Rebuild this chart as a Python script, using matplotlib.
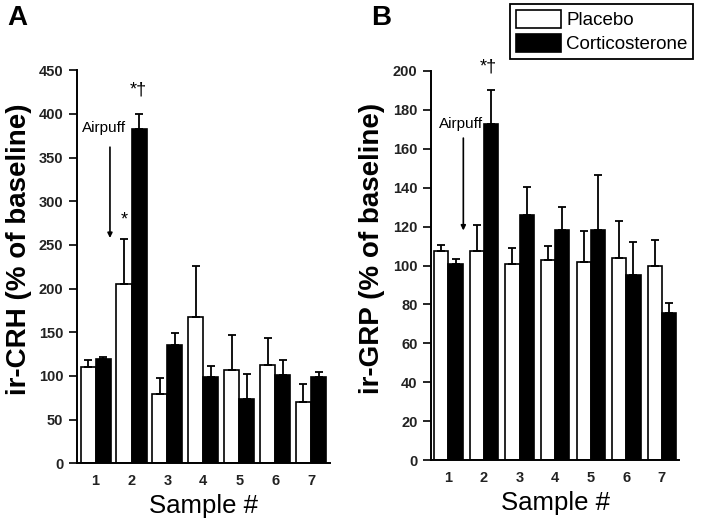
import numpy as np
import matplotlib
matplotlib.use('Agg')
import matplotlib.pyplot as plt
from matplotlib.patches import Patch

plt.rcParams['font.family'] = ['Liberation Sans', 'DejaVu Sans']

# data
samples = [1, 2, 3, 4, 5, 6, 7]
crh_placebo = [110, 205, 79, 168, 107, 112, 70]
crh_placebo_err = [8, 52, 19, 58, 40, 32, 21]
crh_cort = [120, 383, 135, 99, 74, 101, 99]
crh_cort_err = [1.5, 17, 14, 12, 28, 17, 5]

grp_placebo = [107.5, 107.5, 101, 103, 102, 104, 100]
grp_placebo_err = [3, 13.5, 8, 7, 15.5, 19, 13]
grp_cort = [101, 172.5, 126, 118, 118.5, 95, 75.5]
grp_cort_err = [2.5, 17.5, 14.5, 12, 28, 17, 5]

W, H = 708, 520
fig = plt.figure(figsize=(W / 100, H / 100), dpi=100)


def px(l, t, r, b):
    return [l / W, 1 - b / H, (r - l) / W, (b - t) / H]


axA = fig.add_axes(px(77.3, 70.3, 330, 463.3))
axB = fig.add_axes(px(431.3, 71, 679, 460))


def draw(ax, plac, plac_err, cort, cort_err, w, xlim, ylim, yticks):
    x = np.array(samples)
    ek = dict(elinewidth=1.3, capsize=3, capthick=1.3, ecolor='black')
    ax.bar(x - w / 2, plac, w, color='white', edgecolor='black', linewidth=1.2,
           yerr=[np.zeros(len(plac)), plac_err], error_kw=ek)
    ax.bar(x + w / 2, cort, w, color='black', edgecolor='black', linewidth=1.2,
           yerr=[np.zeros(len(cort)), cort_err], error_kw=ek)
    ax.set_xlim(*xlim)
    ax.set_ylim(*ylim)
    ax.set_yticks(yticks)
    ax.set_xticks(x)
    ax.spines['top'].set_visible(False)
    ax.spines['right'].set_visible(False)
    ax.spines['left'].set_linewidth(1.4)
    ax.spines['bottom'].set_linewidth(1.4)
    ax.tick_params(axis='y', length=6, width=1.2, pad=4, labelsize=10.5,
                   colors='black')
    ax.tick_params(axis='x', length=0, pad=8, labelsize=10.5)
    for lab in ax.get_xticklabels() + ax.get_yticklabels():
        lab.set_fontweight('bold')
        lab.set_color('#222222')
    ax.set_xlabel('Sample #', fontsize=18.5, labelpad=4)


draw(axA, crh_placebo, crh_placebo_err, crh_cort, crh_cort_err,
     0.42, (0.49, 7.53), (0, 450), range(0, 451, 50))
draw(axB, grp_placebo, grp_placebo_err, grp_cort, grp_cort_err,
     0.40, (0.52, 7.48), (0, 200), range(0, 201, 20))

# y labels
fig.text(19 / W, 1 - 249 / H, 'ir-CRH (% of baseline)', rotation=90,
         ha='center', va='center', fontsize=20, fontweight='bold')
fig.text(372 / W, 1 - 248 / H, 'ir-GRP (% of baseline)', rotation=90,
         ha='center', va='center', fontsize=20, fontweight='bold')

# panel letters
fig.text(7 / W, 1 - 5 / H, 'A', fontsize=20, fontweight='bold', va='top')
fig.text(371 / W, 1 - 5 / H, 'B', fontsize=20, fontweight='bold', va='top')

# annotations panel A
axA.annotate('', xy=(1.40, 258), xytext=(1.40, 362),
             arrowprops=dict(arrowstyle='-|>', color='black', lw=1.2,
                             mutation_scale=7, shrinkA=0, shrinkB=0))
axA.text(1.23, 384, 'Airpuff', ha='center', va='center', fontsize=11)
axA.text(1.79, 279, '*', ha='center', va='center', fontsize=13)
axA.text(2.19, 428, '*†', ha='center', va='center', fontsize=13,
         clip_on=False)

# annotations panel B
axB.annotate('', xy=(1.42, 118), xytext=(1.42, 165.5),
             arrowprops=dict(arrowstyle='-|>', color='black', lw=1.2,
                             mutation_scale=7, shrinkA=0, shrinkB=0))
axB.text(1.35, 172.7, 'Airpuff', ha='center', va='center', fontsize=11)
axB.text(2.13, 202, '*†', ha='center', va='center', fontsize=13,
         clip_on=False)

# legend
handles = [Patch(facecolor='white', edgecolor='black', linewidth=1.2, label='Placebo'),
           Patch(facecolor='black', edgecolor='black', linewidth=1.2, label='Corticosterone')]
leg = fig.legend(handles=handles, loc='upper left',
                 bbox_to_anchor=(510 / W, 1 - 4 / H), bbox_transform=fig.transFigure,
                 fontsize=13.5, handlelength=2.4, handleheight=1.1,
                 handletextpad=0.3, labelspacing=0.25, borderpad=0.3,
                 borderaxespad=0, fancybox=False, framealpha=1)
leg.get_frame().set_edgecolor('black')
leg.get_frame().set_linewidth(1.3)

fig.savefig('out.png', dpi=100)
